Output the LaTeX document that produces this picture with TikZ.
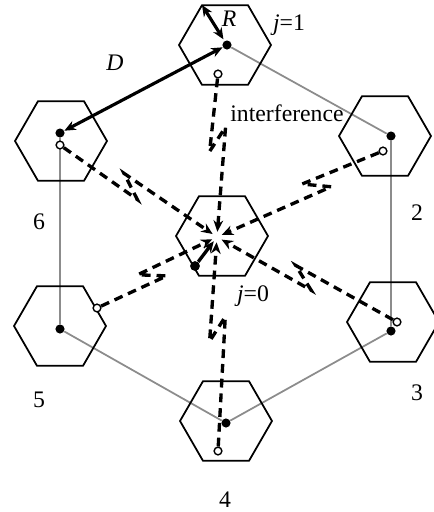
\documentclass[tikz,border=0pt]{standalone}
\usepackage{fontspec}
\setmainfont{Liberation Serif}
\usetikzlibrary{calc,arrows.meta,shapes.geometric,backgrounds}

\begin{document}
\begin{tikzpicture}[x=0.02cm,y=-0.02cm,>={Stealth[length=6.5pt,width=5.5pt]},line join=round,
  cell/.style={regular polygon,regular polygon sides=6,minimum size=1.84cm,inner sep=0pt,draw,line width=1pt},
  bs/.style={circle,fill,inner sep=0pt,minimum size=5.2pt},
  ms/.style={circle,draw,fill=white,inner sep=0pt,minimum size=4.4pt,line width=0.8pt},
  link/.style={black!45,line width=1pt},
  intf/.style={dash pattern=on 5pt off 3.4pt,line width=1.9pt},
  lbl/.style={font=\fontsize{13.5}{16}\selectfont,inner sep=1pt}]
  \useasboundingbox (0,0) rectangle (434,512);
  % cells
  \node[cell] (c0) at (222,236){};
  \node[cell] (c1) at (225,45){};
  \node[cell] (c2) at (385,136){};
  \node[cell] (c3) at (393,322){};
  \node[cell] (c4) at (226,421){};
  \node[cell] (c5) at (60,326){};
  \node[cell] (c6) at (61,141){};
  % base stations and mobiles
  \node[bs] (b1) at (227,45){};
  \node[bs] (b2) at (391,136){};
  \node[bs] (b3) at (391,331){};
  \node[bs] (b4) at (226,423){};
  \node[bs] (b5) at (60,329){};
  \node[bs] (b6) at (60,133){};
  \node[ms] (m1) at (218,74){};
  \node[ms] (m2) at (383,151){};
  \node[ms] (m3) at (397,322){};
  \node[ms] (m4) at (218,451){};
  \node[ms] (m5) at (97,308){};
  \node[ms] (m6) at (60,145){};
  \node[bs,minimum size=5.6pt] (m0) at (195,266){};
  \coordinate (o) at (217,237);
  \coordinate (rv) at ($(c1.center)+(-23,-40)$);
  \begin{pgfonlayer}{background}
    \draw[link] (b1)--(b2)--(b3)--(b4)--(b5)--(b6);
    \foreach \i/\t in {1/0.4,2/0.4,3/0.52,4/0.57,5/0.46,6/0.45}{
      \coordinate (p\i) at ($(m\i)!\t!(o)$);
      \coordinate (q\i) at ($(p\i)!7pt!(o)$);
      \coordinate (r\i) at ($(p\i)!7pt!(m\i)$);
      \coordinate (a\i) at ($(q\i)!4.5pt!-90:(o)$);
      \coordinate (z\i) at ($(r\i)!4.5pt!-90:(m\i)$);
      \draw[intf,->,shorten >=3pt] (m\i)--(a\i)--(z\i)--(o);
    }
  \end{pgfonlayer}
  \draw[line width=1.9pt,->,shorten >=3pt] (m0)--(o);
  \draw[line width=1.8pt,<->] (b6)--(b1);
  \draw[line width=1.8pt,<->,shorten >=1pt] (rv)--(b1);
  % labels
  \node[lbl] (rlab) at (229,19){\textit{R}};
  \node[lbl] (j1) at (289,25){\textit{j}=1};
  \node[lbl] (dlab) at (115,63){\textit{D}};
  \node[lbl] (intlab) at (287,113){interference};
  \node[lbl] (j0) at (253,296){\textit{j}=0};
  \node[lbl] (n2) at (417,213){2};
  \node[lbl] (n3) at (417,393){3};
  \node[lbl] (n4) at (225,500){4};
  \node[lbl] (n5) at (39,400){5};
  \node[lbl] (n6) at (39,222){6};
\end{tikzpicture}
\end{document}
